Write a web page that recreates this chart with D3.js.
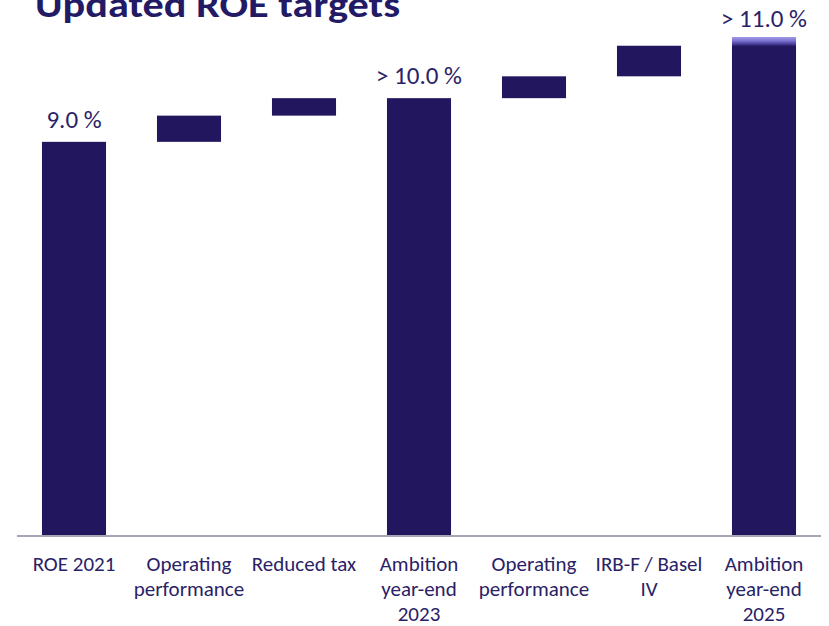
<!DOCTYPE html>
<html>
<head>
<meta charset="utf-8">
<script src="https://cdn.jsdelivr.net/npm/d3@7"></script>
<style>
  html, body { margin: 0; padding: 0; background: #ffffff; }
  svg { display: block; }
</style>
</head>
<body>
<svg id="chart" width="829" height="626"></svg>
<script>
// ---- data ----
const categories = [
  ["ROE 2021"],
  ["Operating", "performance"],
  ["Reduced tax"],
  ["Ambition", "year-end", "2023"],
  ["Operating", "performance"],
  ["IRB-F / Basel", "IV"],
  ["Ambition", "year-end", "2025"]
];
const barTypes = ["total", "delta", "delta", "total", "delta", "delta", "total"];
const values = [9.0, 0.6, 0.4, 10.0, 0.5, 0.7, 11.4];
const valueLabels = ["9.0 %", "", "", "> 10.0 %", "", "", "> 11.0 %"];
const titleText = "Updated ROE targets";

// ---- layout ----
const navy = "#22175f";
const textNavy = "#2a2266";
const font = "Carlito, Calibri, Lato, 'Open Sans', sans-serif";

const svg = d3.select("#chart");

const x = d3.scaleBand()
  .domain(d3.range(categories.length))
  .range([16.5, 821.5])
  .paddingInner(0.443)
  .paddingOuter(0.2215);

const y = d3.scaleLinear().domain([0, 11.4]).range([535, 37]);

// compute waterfall starts/ends
let running = 0;
const bars = values.map((v, i) => {
  let y0, y1;
  if (barTypes[i] === "total") { y0 = 0; y1 = v; running = v; }
  else { y0 = running; y1 = running + v; running = y1; }
  return { i, y0, y1, type: barTypes[i], label: valueLabels[i] };
});

// gradient for final bar cap
const defs = svg.append("defs");
const grad = defs.append("linearGradient")
  .attr("id", "capGrad").attr("x1", 0).attr("y1", 0).attr("x2", 0).attr("y2", 1);
grad.append("stop").attr("offset", "0%").attr("stop-color", "#a39ae6");
grad.append("stop").attr("offset", "0.7%").attr("stop-color", "#8177d4");
grad.append("stop").attr("offset", "1.4%").attr("stop-color", "#4a3f9a");
grad.append("stop").attr("offset", "1.9%").attr("stop-color", navy);
grad.append("stop").attr("offset", "100%").attr("stop-color", navy);

// title
svg.append("text")
  .attr("x", 35).attr("y", 17)
  .attr("font-family", font).attr("font-weight", "bold")
  .attr("font-size", 36).attr("fill", "#231a66")
  .attr("textLength", 365).attr("lengthAdjust", "spacingAndGlyphs")
  .text(titleText);

// axis baseline
svg.append("line")
  .attr("x1", 17).attr("x2", 821)
  .attr("y1", 536).attr("y2", 536)
  .attr("stroke", "#a7a7b4").attr("stroke-width", 2);

// bars
svg.selectAll("rect.bar").data(bars).enter().append("rect")
  .attr("class", "bar")
  .attr("x", d => x(d.i))
  .attr("width", x.bandwidth())
  .attr("y", d => y(d.y1))
  .attr("height", d => y(d.y0) - y(d.y1))
  .attr("fill", (d, i) => i === bars.length - 1 ? "url(#capGrad)" : navy);

// value labels
svg.selectAll("text.val").data(bars.filter(d => d.label)).enter().append("text")
  .attr("class", "val")
  .attr("x", d => x(d.i) + x.bandwidth() / 2)
  .attr("y", d => Math.max(27, y(d.y1) - 14))
  .attr("text-anchor", "middle")
  .attr("font-family", font).attr("font-size", 25)
  .attr("fill", textNavy)
  .text(d => d.label);

// category labels
const cat = svg.selectAll("text.cat").data(categories).enter().append("text")
  .attr("class", "cat")
  .attr("x", (d, i) => x(i) + x.bandwidth() / 2)
  .attr("y", 571)
  .attr("text-anchor", "middle")
  .attr("font-family", font).attr("font-size", 21)
  .attr("fill", textNavy);
cat.selectAll("tspan").data(d => d).enter().append("tspan")
  .attr("x", function() { return d3.select(this.parentNode).attr("x"); })
  .attr("dy", (d, j) => j === 0 ? 0 : 25)
  .text(d => d);
</script>
</body>
</html>
